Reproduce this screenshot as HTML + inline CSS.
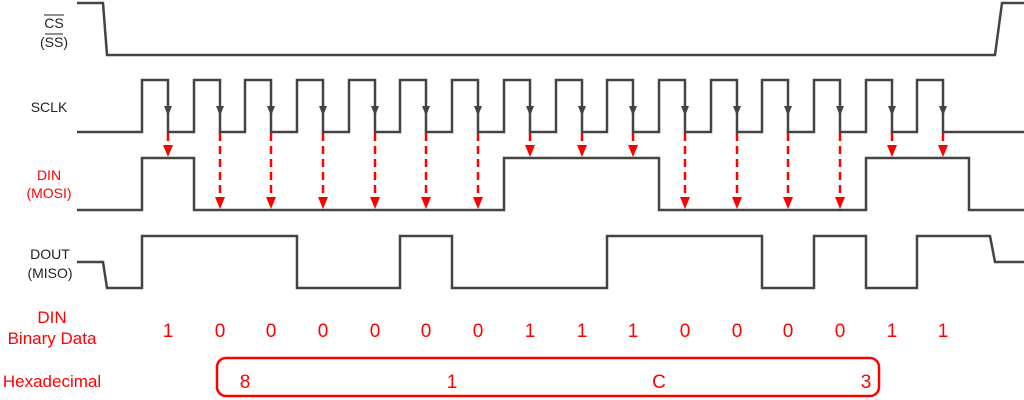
<!DOCTYPE html>
<html><head><meta charset="utf-8"><style>
html,body{margin:0;padding:0;background:#fff;width:1024px;height:400px;overflow:hidden}
text{font-family:"Liberation Sans",Arial,sans-serif}
</style></head><body>
<svg width="1024" height="400" viewBox="0 0 1024 400" xmlns="http://www.w3.org/2000/svg">
<g fill="none" stroke="#444" stroke-width="2.5" stroke-linejoin="miter">
<path d="M77 3 H103 L107 55 H995 L1002 3 H1024"/>
<path d="M77 132 H142 V80 H168 V132 H194 V80 H220 V132 H245 V80 H271 V132 H297 V80 H323 V132 H349 V80 H375 V132 H400 V80 H426 V132 H452 V80 H478 V132 H504 V80 H530 V132 H556 V80 H582 V132 H607 V80 H633 V132 H659 V80 H685 V132 H711 V80 H737 V132 H762 V80 H788 V132 H814 V80 H840 V132 H866 V80 H892 V132 H917 V80 H943 V132 H1024"/>
<path d="M77 210 H142 V158 H194 V210 H504 V158 H659 V210 H866 V158 H969 V210 H1024"/>
<path d="M77 262 H103 L107 288 H142 V236 H297 V288 H400 V236 H452 V288 H607 V236 H762 V288 H814 V236 H866 V288 H917 V236 H990 L995 262 H1024"/>
</g>
<g fill="#444">
<polygon points="164,106 172,106 168,116"/><polygon points="216,106 224,106 220,116"/><polygon points="267,106 275,106 271,116"/><polygon points="319,106 327,106 323,116"/><polygon points="371,106 379,106 375,116"/><polygon points="422,106 430,106 426,116"/><polygon points="474,106 482,106 478,116"/><polygon points="526,106 534,106 530,116"/><polygon points="578,106 586,106 582,116"/><polygon points="629,106 637,106 633,116"/><polygon points="681,106 689,106 685,116"/><polygon points="733,106 741,106 737,116"/><polygon points="784,106 792,106 788,116"/><polygon points="836,106 844,106 840,116"/><polygon points="888,106 896,106 892,116"/><polygon points="939,106 947,106 943,116"/>
</g>
<g stroke="#f00" stroke-width="2.5" stroke-dasharray="8,5">
<line x1="168" y1="133" x2="168" y2="147"/><line x1="220" y1="133" x2="220" y2="199"/><line x1="271" y1="133" x2="271" y2="199"/><line x1="323" y1="133" x2="323" y2="199"/><line x1="375" y1="133" x2="375" y2="199"/><line x1="426" y1="133" x2="426" y2="199"/><line x1="478" y1="133" x2="478" y2="199"/><line x1="530" y1="133" x2="530" y2="147"/><line x1="582" y1="133" x2="582" y2="147"/><line x1="633" y1="133" x2="633" y2="147"/><line x1="685" y1="133" x2="685" y2="199"/><line x1="737" y1="133" x2="737" y2="199"/><line x1="788" y1="133" x2="788" y2="199"/><line x1="840" y1="133" x2="840" y2="199"/><line x1="892" y1="133" x2="892" y2="147"/><line x1="943" y1="133" x2="943" y2="147"/>
</g>
<g fill="#f00">
<polygon points="163,145 173,145 168,157"/><polygon points="215,197 225,197 220,209"/><polygon points="266,197 276,197 271,209"/><polygon points="318,197 328,197 323,209"/><polygon points="370,197 380,197 375,209"/><polygon points="421,197 431,197 426,209"/><polygon points="473,197 483,197 478,209"/><polygon points="525,145 535,145 530,157"/><polygon points="577,145 587,145 582,157"/><polygon points="628,145 638,145 633,157"/><polygon points="680,197 690,197 685,209"/><polygon points="732,197 742,197 737,209"/><polygon points="783,197 793,197 788,209"/><polygon points="835,197 845,197 840,209"/><polygon points="887,145 897,145 892,157"/><polygon points="938,145 948,145 943,157"/>
</g>
<g font-size="14" fill="#222" text-anchor="middle">
<text x="54" y="28">CS</text><line x1="44" y1="15" x2="64" y2="15" stroke="#222" stroke-width="1"/>
<text x="54" y="47">(SS)</text><line x1="45" y1="34" x2="63" y2="34" stroke="#222" stroke-width="1"/>
<text x="49" y="112">SCLK</text>
<text x="50" y="259">DOUT</text>
<text x="50" y="278">(MISO)</text>
</g>
<g font-size="14" fill="#f00" text-anchor="middle">
<text x="49" y="180">DIN</text>
<text x="49" y="198">(MOSI)</text>
<text x="52" y="323" font-size="17">DIN</text>
<text x="52" y="344" font-size="17">Binary Data</text>
<text x="52" y="387" font-size="17">Hexadecimal</text>
</g>
<g font-size="19" fill="#f00" text-anchor="middle">
<text x="168" y="337">1</text><text x="220" y="337">0</text><text x="271" y="337">0</text><text x="323" y="337">0</text><text x="375" y="337">0</text><text x="426" y="337">0</text><text x="478" y="337">0</text><text x="530" y="337">1</text><text x="582" y="337">1</text><text x="633" y="337">1</text><text x="685" y="337">0</text><text x="737" y="337">0</text><text x="788" y="337">0</text><text x="840" y="337">0</text><text x="892" y="337">1</text><text x="943" y="337">1</text>
<text x="245" y="388">8</text><text x="452" y="388">1</text><text x="659" y="388">C</text><text x="866" y="388">3</text>
</g>
<rect x="217" y="358" width="662" height="38" rx="9" ry="9" fill="none" stroke="#f00" stroke-width="2.5"/>
</svg>
</body></html>
